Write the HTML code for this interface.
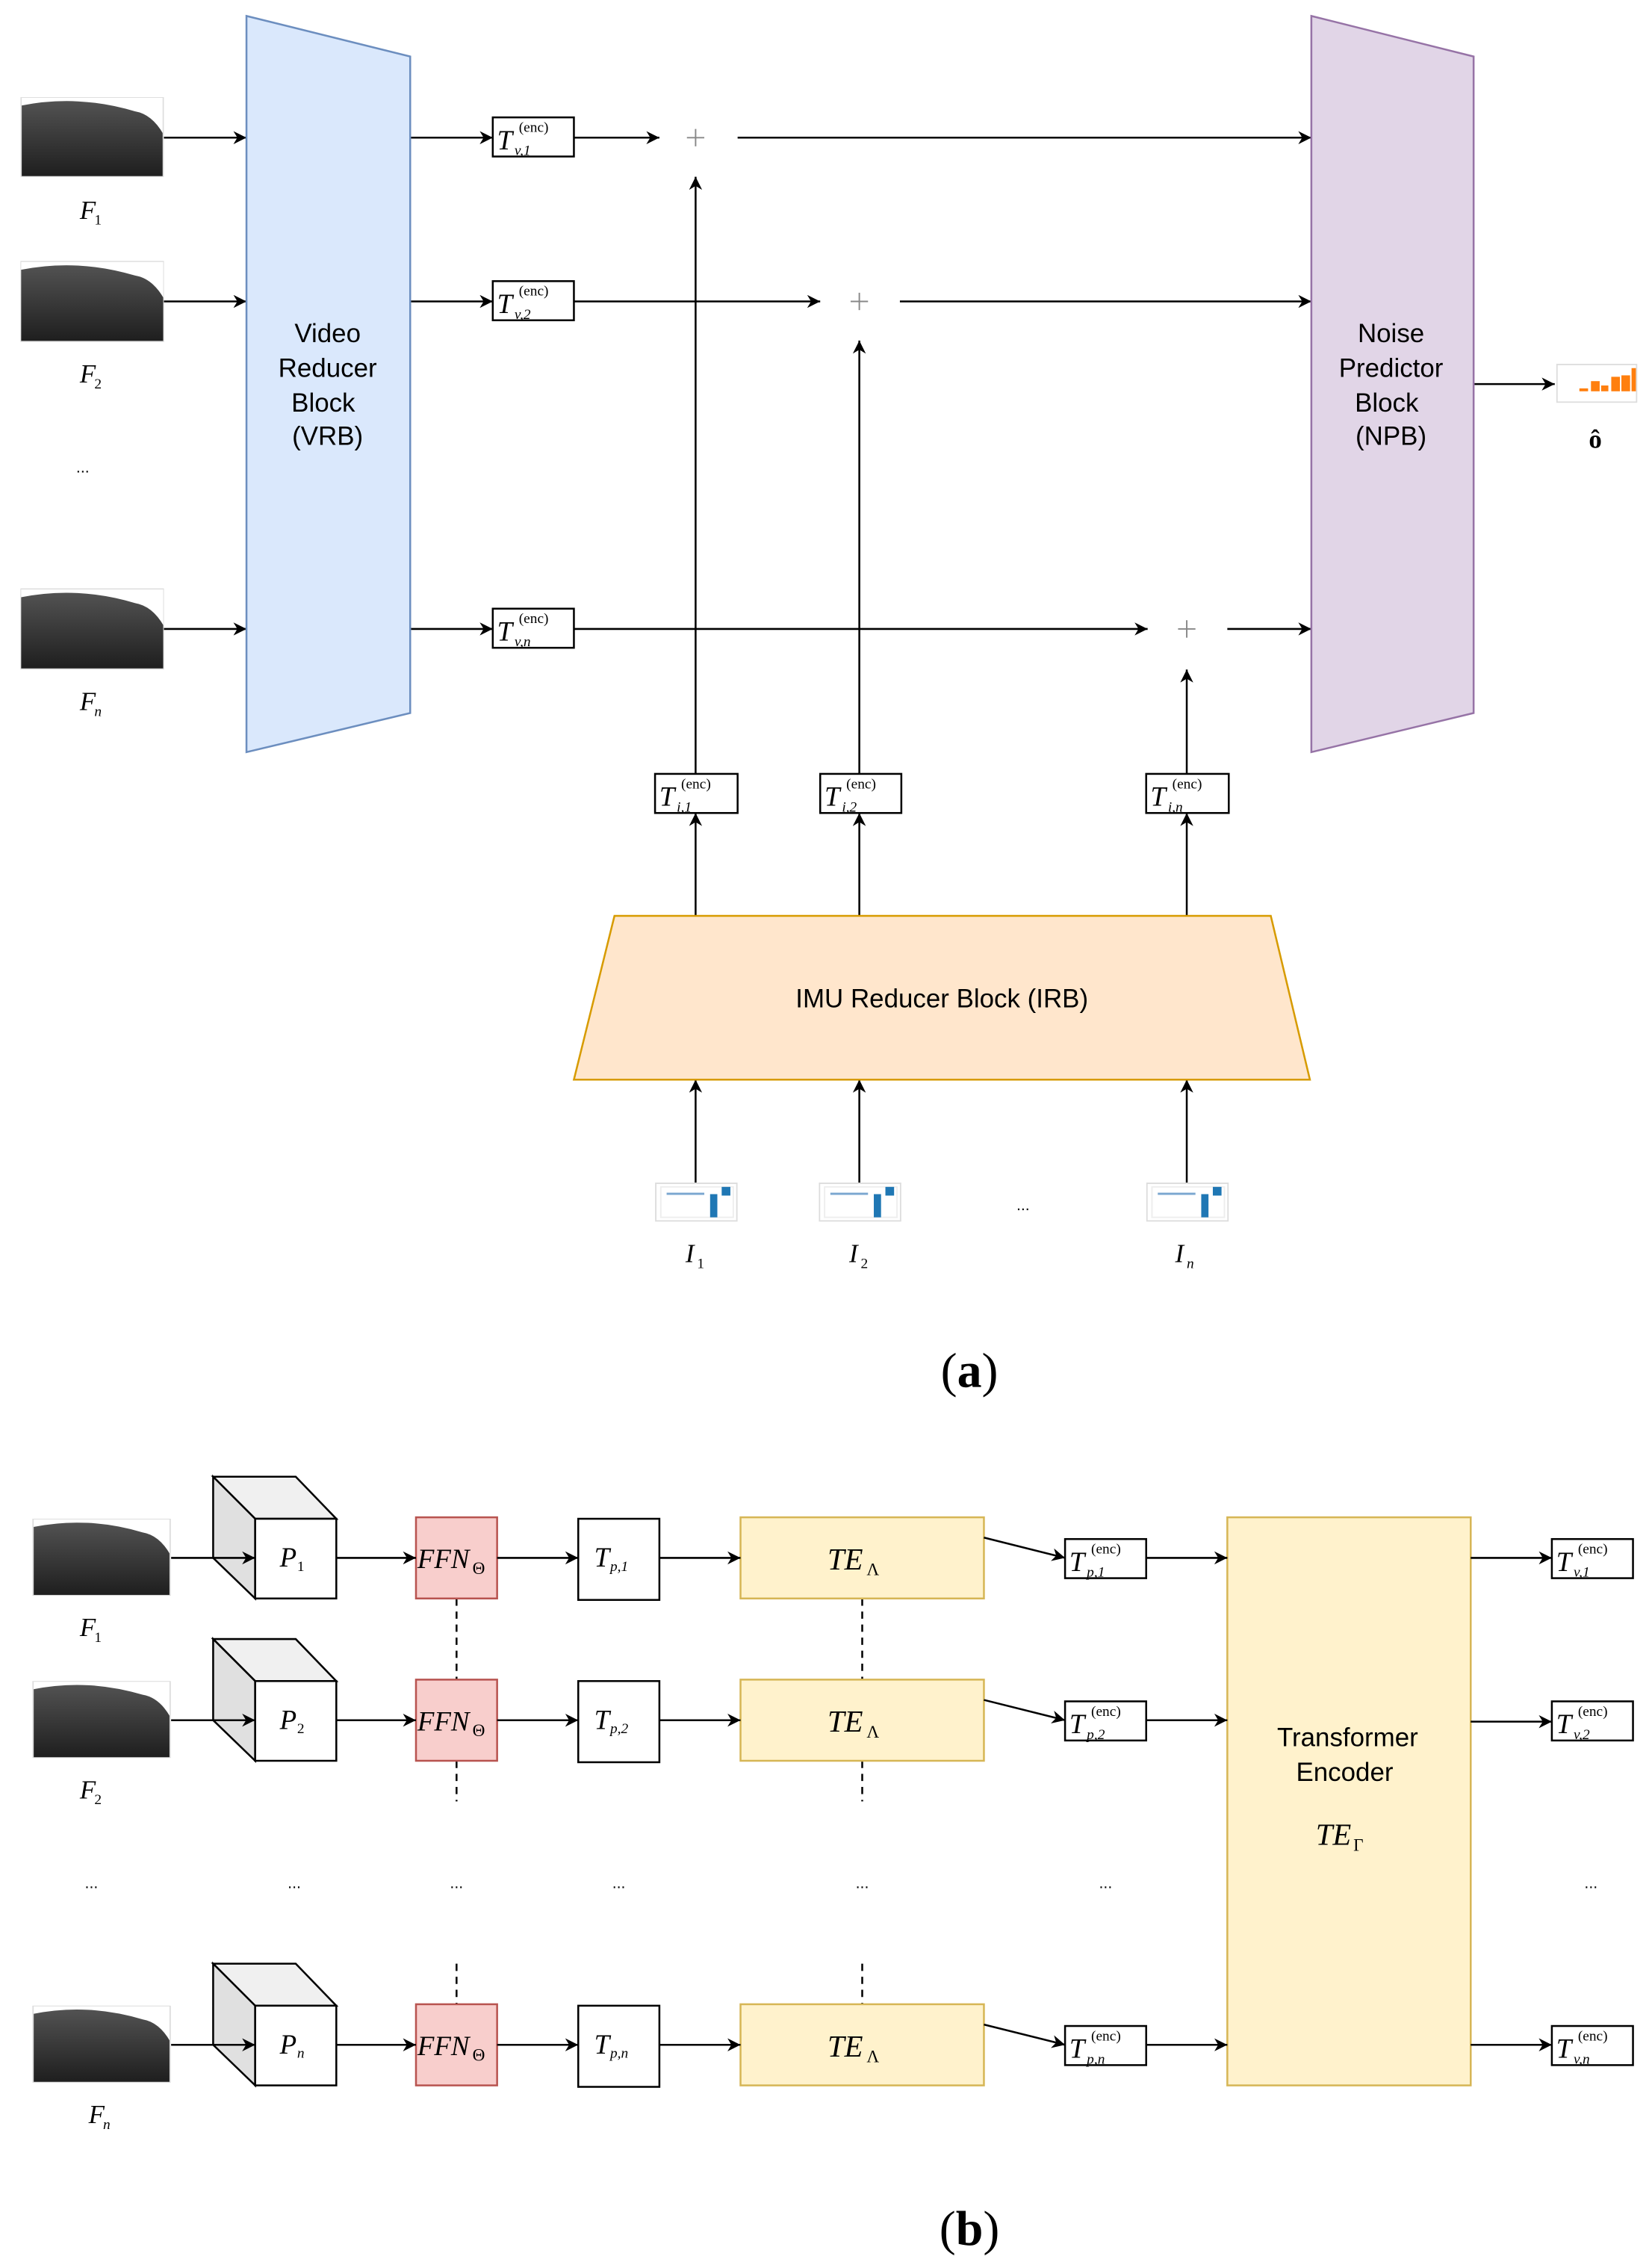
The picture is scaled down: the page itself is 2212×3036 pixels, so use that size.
<!DOCTYPE html>
<html><head><meta charset="utf-8"><style>
html,body{margin:0;padding:0;background:#fff}
svg{display:block}
.m{font-family:"Liberation Serif",serif;font-style:italic}
.s{font-family:"Liberation Sans",sans-serif}
</style></head><body>
<svg width="2212" height="3036" viewBox="0 0 1140 1565" xmlns="http://www.w3.org/2000/svg">
<defs>
<marker id="a" viewBox="0 0 10 10" refX="10" refY="5" markerWidth="9" markerHeight="9" markerUnits="userSpaceOnUse" orient="auto">
<path d="M0,0 L10,5 L0,10 L3,5 Z" fill="#000"/></marker>
<linearGradient id="g" x1="0" y1="0" x2="0" y2="1"><stop offset="0" stop-color="#555"/><stop offset="1" stop-color="#1e1e1e"/></linearGradient>
<symbol id="img" viewBox="0 0 100 56">
<rect x="0" y="0" width="100" height="56" fill="url(#g)"/>
<path d="M0,0 H100 V26 Q92,12 80,10 Q60,4 40,3 Q20,2 0,6 Z" fill="#fff"/>
<rect x="0" y="0" width="100" height="56" fill="none" stroke="#ddd" stroke-width="1"/>
</symbol>
<symbol id="imu" viewBox="0 0 57 27">
<rect x="0.5" y="0.5" width="56" height="26" fill="#fff" stroke="#ddd"/>
<rect x="4" y="3" width="50" height="21" fill="none" stroke="#eee"/>
<rect x="8" y="7" width="26" height="1.5" fill="#7aa7d0"/>
<rect x="38" y="8" width="5" height="16" fill="#1f77b4"/>
<rect x="46" y="3" width="6" height="6" fill="#1f77b4"/>
</symbol>
<symbol id="ch" viewBox="0 0 56 27">
<rect x="0.5" y="0.5" width="55" height="26" fill="#fff" stroke="#ddd"/>
<rect x="16" y="17" width="6" height="2" fill="#ff7f0e"/>
<rect x="24" y="12" width="6" height="7" fill="#ff7f0e"/>
<rect x="31" y="15" width="5" height="4" fill="#ff7f0e"/>
<rect x="38" y="9" width="6" height="10" fill="#ff7f0e"/>
<rect x="45" y="8" width="6" height="11" fill="#ff7f0e"/>
<rect x="52" y="3" width="3" height="16" fill="#ff7f0e"/>
</symbol>
</defs>
<g stroke="#000" stroke-width="1.3" fill="none">
<line x1="113" y1="95" x2="170" y2="95" marker-end="url(#a)"/>
<line x1="113" y1="208" x2="170" y2="208" marker-end="url(#a)"/>
<line x1="113" y1="434" x2="170" y2="434" marker-end="url(#a)"/>
<line x1="283" y1="95" x2="340" y2="95" marker-end="url(#a)"/>
<line x1="283" y1="208" x2="340" y2="208" marker-end="url(#a)"/>
<line x1="283" y1="434" x2="340" y2="434" marker-end="url(#a)"/>
<line x1="396" y1="95" x2="455" y2="95" marker-end="url(#a)"/>
<line x1="509" y1="95" x2="905" y2="95" marker-end="url(#a)"/>
<line x1="396" y1="208" x2="566" y2="208" marker-end="url(#a)"/>
<line x1="621" y1="208" x2="905" y2="208" marker-end="url(#a)"/>
<line x1="396" y1="434" x2="792" y2="434" marker-end="url(#a)"/>
<line x1="847" y1="434" x2="905" y2="434" marker-end="url(#a)"/>
<line x1="480" y1="534" x2="480" y2="122" marker-end="url(#a)"/>
<line x1="593" y1="534" x2="593" y2="235" marker-end="url(#a)"/>
<line x1="819" y1="534" x2="819" y2="462" marker-end="url(#a)"/>
<line x1="480" y1="632" x2="480" y2="561" marker-end="url(#a)"/>
<line x1="593" y1="632" x2="593" y2="561" marker-end="url(#a)"/>
<line x1="819" y1="632" x2="819" y2="561" marker-end="url(#a)"/>
<line x1="480" y1="816" x2="480" y2="745" marker-end="url(#a)"/>
<line x1="593" y1="816" x2="593" y2="745" marker-end="url(#a)"/>
<line x1="819" y1="816" x2="819" y2="745" marker-end="url(#a)"/>
<line x1="1017" y1="265" x2="1073" y2="265" marker-end="url(#a)"/>
</g>
<polygon points="170,11 283,39 283,492 170,519" fill="#dae8fc" stroke="#6c8ebf" stroke-width="1.3"/>
<polygon points="905,11 1017,39 1017,492 905,519" fill="#e1d5e7" stroke="#9673a6" stroke-width="1.3"/>
<polygon points="424,632 877,632 904,745 396,745" fill="#ffe6cc" stroke="#d79b00" stroke-width="1.3"/>
<g class="s" font-size="18" text-anchor="middle" fill="#000">
<text x="226" y="236">Video</text><text x="226" y="260">Reducer</text><text x="223" y="284">Block</text><text x="226" y="307">(VRB)</text>
<text x="960" y="236">Noise</text><text x="960" y="260">Predictor</text><text x="957" y="284">Block</text><text x="960" y="307">(NPB)</text>
<text x="650" y="695">IMU Reducer Block (IRB)</text>
</g>
<g stroke="#888" stroke-width="1"><path d="M474,95 h12 M480,89 v12"/><path d="M587,208 h12 M593,202 v12"/><path d="M813,434 h12 M819,428 v12"/></g>
<use href="#img" x="14" y="67" width="99" height="55"/>
<use href="#img" x="14" y="180" width="99" height="56"/>
<use href="#img" x="14" y="406" width="99" height="56"/>
<g class="m" font-size="18" fill="#000">
<text x="55" y="151">F</text><text x="65" y="155" font-size="10" font-style="normal">1</text>
<text x="55" y="264">F</text><text x="65" y="268" font-size="10" font-style="normal">2</text>
<text x="55" y="490">F</text><text x="65" y="494" font-size="10">n</text>
<text x="473" y="871">I</text><text x="481" y="875" font-size="10" font-style="normal">1</text>
<text x="586" y="871">I</text><text x="594" y="875" font-size="10" font-style="normal">2</text>
<text x="811" y="871">I</text><text x="819" y="875" font-size="10">n</text>
</g>
<text x="57" y="326" class="s" font-size="11" text-anchor="middle">...</text>
<text x="706" y="835" class="s" font-size="11" text-anchor="middle">...</text>
<use href="#imu" x="452" y="816" width="57" height="27"/>
<use href="#imu" x="565" y="816" width="57" height="27"/>
<use href="#imu" x="791" y="816" width="57" height="27"/>
<use href="#ch" x="1074" y="251" width="56" height="27"/>
<text x="1101" y="309" font-family="Liberation Serif,serif" font-weight="bold" font-size="18" text-anchor="middle">ô</text>
<g fill="#fff" stroke="#000" stroke-width="1.3">
<rect x="340" y="81" width="56" height="27"/><rect x="340" y="194" width="56" height="27"/><rect x="340" y="420" width="56" height="27"/>
<rect x="452" y="534" width="57" height="27"/><rect x="566" y="534" width="56" height="27"/><rect x="791" y="534" width="57" height="27"/>
</g>
<g class="m" fill="#000">
<g transform="translate(340,81)"><text x="3" y="22" font-size="19">T</text><text x="15" y="26" font-size="10">v,1</text><text x="18" y="10" font-size="10" font-style="normal">(enc)</text></g>
<g transform="translate(340,194)"><text x="3" y="22" font-size="19">T</text><text x="15" y="26" font-size="10">v,2</text><text x="18" y="10" font-size="10" font-style="normal">(enc)</text></g>
<g transform="translate(340,420)"><text x="3" y="22" font-size="19">T</text><text x="15" y="26" font-size="10">v,n</text><text x="18" y="10" font-size="10" font-style="normal">(enc)</text></g>
<g transform="translate(452,534)"><text x="3" y="22" font-size="19">T</text><text x="15" y="26" font-size="10">i,1</text><text x="18" y="10" font-size="10" font-style="normal">(enc)</text></g>
<g transform="translate(566,534)"><text x="3" y="22" font-size="19">T</text><text x="15" y="26" font-size="10">i,2</text><text x="18" y="10" font-size="10" font-style="normal">(enc)</text></g>
<g transform="translate(791,534)"><text x="3" y="22" font-size="19">T</text><text x="15" y="26" font-size="10">i,n</text><text x="18" y="10" font-size="10" font-style="normal">(enc)</text></g>
</g>
<text x="669" y="957" font-family="Liberation Serif,serif" font-size="34" text-anchor="middle">(<tspan font-weight="bold">a</tspan>)</text>

<g stroke="#000" stroke-width="1.3" fill="none">
<line x1="118" y1="1075" x2="176" y2="1075" marker-end="url(#a)"/>
<line x1="118" y1="1187" x2="176" y2="1187" marker-end="url(#a)"/>
<line x1="118" y1="1411" x2="176" y2="1411" marker-end="url(#a)"/>
</g>
<g stroke="#000" stroke-width="1.3">
<g><polygon points="147,1019 204,1019 232,1048 176,1048" fill="#f0f0f0"/><polygon points="147,1019 176,1048 176,1103 147,1075" fill="#e0e0e0"/><rect x="176" y="1048" width="56" height="55" fill="#fff"/></g>
<g transform="translate(0,112)"><polygon points="147,1019 204,1019 232,1048 176,1048" fill="#f0f0f0"/><polygon points="147,1019 176,1048 176,1103 147,1075" fill="#e0e0e0"/><rect x="176" y="1048" width="56" height="55" fill="#fff"/></g>
<g transform="translate(0,336)"><polygon points="147,1019 204,1019 232,1048 176,1048" fill="#f0f0f0"/><polygon points="147,1019 176,1048 176,1103 147,1075" fill="#e0e0e0"/><rect x="176" y="1048" width="56" height="55" fill="#fff"/></g>
</g>
<g stroke="#000" stroke-width="1.3" fill="none">
<line x1="147" y1="1075" x2="176" y2="1075" marker-end="url(#a)"/>
<line x1="147" y1="1187" x2="176" y2="1187" marker-end="url(#a)"/>
<line x1="147" y1="1411" x2="176" y2="1411" marker-end="url(#a)"/>
<line x1="315" y1="1103" x2="315" y2="1159" stroke-dasharray="5,4"/>
<line x1="315" y1="1215" x2="315" y2="1243" stroke-dasharray="5,4"/>
<line x1="315" y1="1355" x2="315" y2="1383" stroke-dasharray="5,4"/>
<line x1="595" y1="1103" x2="595" y2="1159" stroke-dasharray="5,4"/>
<line x1="595" y1="1215" x2="595" y2="1243" stroke-dasharray="5,4"/>
<line x1="595" y1="1355" x2="595" y2="1383" stroke-dasharray="5,4"/>
</g>
<use href="#img" x="22" y="1048" width="96" height="53"/>
<use href="#img" x="22" y="1160" width="96" height="53"/>
<use href="#img" x="22" y="1384" width="96" height="53"/>
<g stroke-width="1.3">
<rect x="287" y="1047" width="56" height="56" fill="#f8cecc" stroke="#b85450"/>
<rect x="287" y="1159" width="56" height="56" fill="#f8cecc" stroke="#b85450"/>
<rect x="287" y="1383" width="56" height="56" fill="#f8cecc" stroke="#b85450"/>
<rect x="399" y="1048" width="56" height="56" fill="#fff" stroke="#000"/>
<rect x="399" y="1160" width="56" height="56" fill="#fff" stroke="#000"/>
<rect x="399" y="1384" width="56" height="56" fill="#fff" stroke="#000"/>
<rect x="511" y="1047" width="168" height="56" fill="#fff2cc" stroke="#d6b656"/>
<rect x="511" y="1159" width="168" height="56" fill="#fff2cc" stroke="#d6b656"/>
<rect x="511" y="1383" width="168" height="56" fill="#fff2cc" stroke="#d6b656"/>
<rect x="847" y="1047" width="168" height="392" fill="#fff2cc" stroke="#d6b656"/>
<rect x="735" y="1062" width="56" height="27" fill="#fff" stroke="#000"/>
<rect x="735" y="1174" width="56" height="27" fill="#fff" stroke="#000"/>
<rect x="735" y="1398" width="56" height="27" fill="#fff" stroke="#000"/>
<rect x="1071" y="1062" width="56" height="27" fill="#fff" stroke="#000"/>
<rect x="1071" y="1174" width="56" height="27" fill="#fff" stroke="#000"/>
<rect x="1071" y="1398" width="56" height="27" fill="#fff" stroke="#000"/>
</g>
<g stroke="#000" stroke-width="1.3" fill="none">
<line x1="232" y1="1075" x2="287" y2="1075" marker-end="url(#a)"/>
<line x1="232" y1="1187" x2="287" y2="1187" marker-end="url(#a)"/>
<line x1="232" y1="1411" x2="287" y2="1411" marker-end="url(#a)"/>
<line x1="343" y1="1075" x2="399" y2="1075" marker-end="url(#a)"/>
<line x1="343" y1="1187" x2="399" y2="1187" marker-end="url(#a)"/>
<line x1="343" y1="1411" x2="399" y2="1411" marker-end="url(#a)"/>
<line x1="455" y1="1075" x2="511" y2="1075" marker-end="url(#a)"/>
<line x1="455" y1="1187" x2="511" y2="1187" marker-end="url(#a)"/>
<line x1="455" y1="1411" x2="511" y2="1411" marker-end="url(#a)"/>
<line x1="679" y1="1061" x2="735" y2="1075" marker-end="url(#a)"/>
<line x1="679" y1="1173" x2="735" y2="1187" marker-end="url(#a)"/>
<line x1="679" y1="1397" x2="735" y2="1411" marker-end="url(#a)"/>
<line x1="791" y1="1075" x2="847" y2="1075" marker-end="url(#a)"/>
<line x1="791" y1="1187" x2="847" y2="1187" marker-end="url(#a)"/>
<line x1="791" y1="1411" x2="847" y2="1411" marker-end="url(#a)"/>
<line x1="1015" y1="1075" x2="1071" y2="1075" marker-end="url(#a)"/>
<line x1="1015" y1="1188" x2="1071" y2="1188" marker-end="url(#a)"/>
<line x1="1015" y1="1411" x2="1071" y2="1411" marker-end="url(#a)"/>
</g>
<g class="m" fill="#000">
<text x="55" y="1129" font-size="18">F</text><text x="65" y="1133" font-size="10" font-style="normal">1</text>
<text x="55" y="1241" font-size="18">F</text><text x="65" y="1245" font-size="10" font-style="normal">2</text>
<text x="61" y="1465" font-size="18">F</text><text x="71" y="1469" font-size="10">n</text>
<text x="193" y="1081" font-size="19">P</text><text x="205" y="1084" font-size="10" font-style="normal">1</text>
<text x="193" y="1193" font-size="19">P</text><text x="205" y="1196" font-size="10" font-style="normal">2</text>
<text x="193" y="1417" font-size="19">P</text><text x="205" y="1420" font-size="10">n</text>
<text x="288" y="1082" font-size="19">FFN</text><text x="326" y="1086" font-size="12" font-style="normal">Θ</text>
<text x="288" y="1194" font-size="19">FFN</text><text x="326" y="1198" font-size="12" font-style="normal">Θ</text>
<text x="288" y="1418" font-size="19">FFN</text><text x="326" y="1422" font-size="12" font-style="normal">Θ</text>
<text x="410" y="1081" font-size="19">T</text><text x="421" y="1084" font-size="10">p,1</text>
<text x="410" y="1193" font-size="19">T</text><text x="421" y="1196" font-size="10">p,2</text>
<text x="410" y="1417" font-size="19">T</text><text x="421" y="1420" font-size="10">p,n</text>
<text x="571" y="1083" font-size="21">TE</text><text x="598" y="1087" font-size="12" font-style="normal">Λ</text>
<text x="571" y="1195" font-size="21">TE</text><text x="598" y="1199" font-size="12" font-style="normal">Λ</text>
<text x="571" y="1419" font-size="21">TE</text><text x="598" y="1423" font-size="12" font-style="normal">Λ</text>
<text x="908" y="1273" font-size="21">TE</text><text x="934" y="1277" font-size="12" font-style="normal">Γ</text>
<g transform="translate(735,1062)"><text x="3" y="22" font-size="19">T</text><text x="15" y="26" font-size="10">p,1</text><text x="18" y="10" font-size="10" font-style="normal">(enc)</text></g>
<g transform="translate(735,1174)"><text x="3" y="22" font-size="19">T</text><text x="15" y="26" font-size="10">p,2</text><text x="18" y="10" font-size="10" font-style="normal">(enc)</text></g>
<g transform="translate(735,1398)"><text x="3" y="22" font-size="19">T</text><text x="15" y="26" font-size="10">p,n</text><text x="18" y="10" font-size="10" font-style="normal">(enc)</text></g>
<g transform="translate(1071,1062)"><text x="3" y="22" font-size="19">T</text><text x="15" y="26" font-size="10">v,1</text><text x="18" y="10" font-size="10" font-style="normal">(enc)</text></g>
<g transform="translate(1071,1174)"><text x="3" y="22" font-size="19">T</text><text x="15" y="26" font-size="10">v,2</text><text x="18" y="10" font-size="10" font-style="normal">(enc)</text></g>
<g transform="translate(1071,1398)"><text x="3" y="22" font-size="19">T</text><text x="15" y="26" font-size="10">v,n</text><text x="18" y="10" font-size="10" font-style="normal">(enc)</text></g>
</g>
<g class="s" font-size="18" text-anchor="middle" fill="#000">
<text x="930" y="1205">Transformer</text><text x="928" y="1229">Encoder</text>
</g>
<g class="s" font-size="11" text-anchor="middle" fill="#000">
<text x="63" y="1303">...</text><text x="203" y="1303">...</text><text x="315" y="1303">...</text><text x="427" y="1303">...</text><text x="595" y="1303">...</text><text x="763" y="1303">...</text><text x="1098" y="1303">...</text>
</g>
<text x="669" y="1549" font-family="Liberation Serif,serif" font-size="34" text-anchor="middle">(<tspan font-weight="bold">b</tspan>)</text>
</svg>
</body></html>
